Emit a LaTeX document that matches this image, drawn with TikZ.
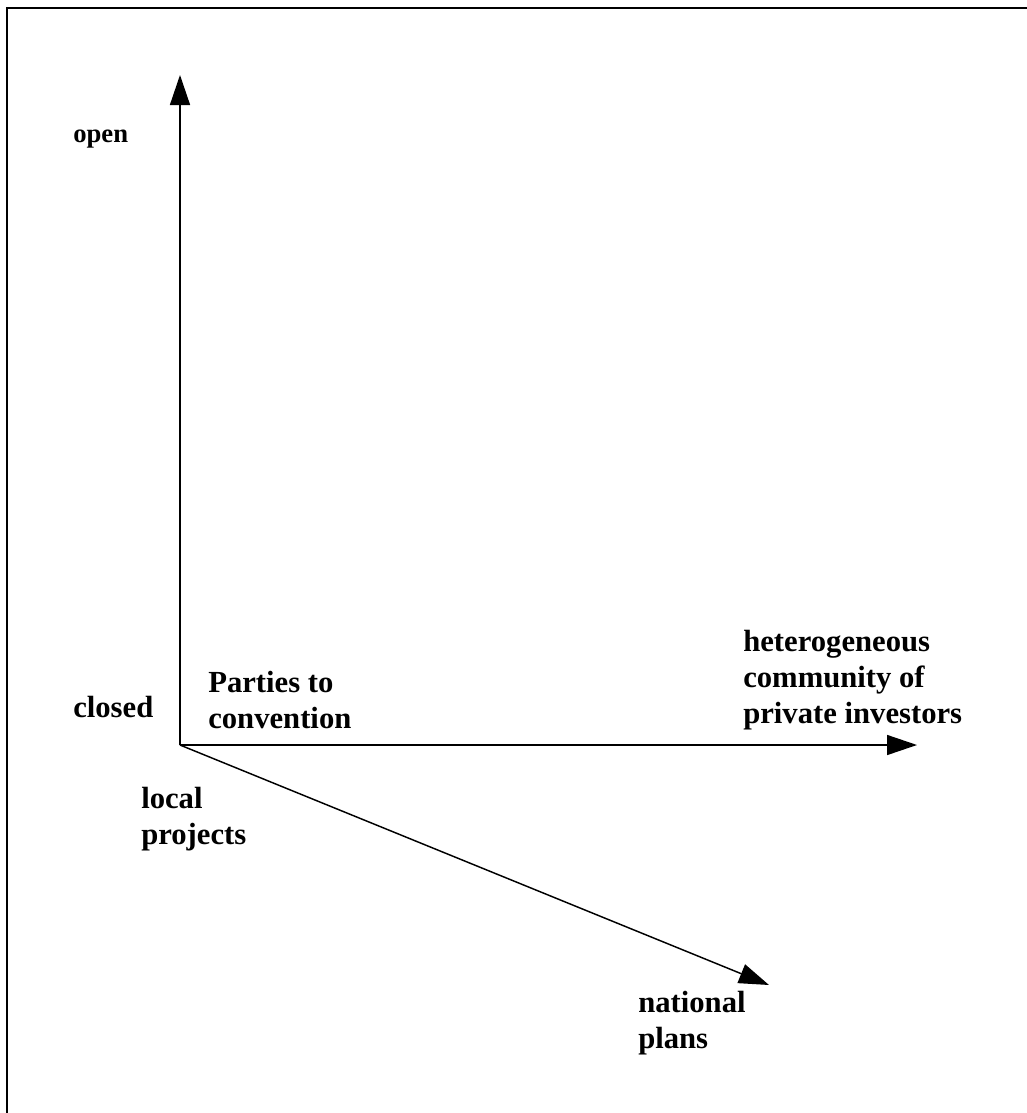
\documentclass[tikz,border=0pt]{standalone}
\usepackage{fontspec}
\setmainfont{Liberation Serif}
\usetikzlibrary{
    arrows.meta,
    positioning
}

\begin{document}
\begin{tikzpicture}[
    x=0.75pt, y=-0.75pt,
    axis/.style={
        -{Triangle[length=22.5pt,width=15pt]},
        line width=1.1pt,
        draw=black
    },
    label/.style={
        font=\fontsize{23}{27}\selectfont\bfseries,
        align=left,
        inner sep=0pt,
        anchor=base west
    },
    small label/.style={
        label,
        font=\fontsize{20}{24}\selectfont\bfseries
    },
    frame/.style={
        line width=1.5pt,
        draw=black
    }
]
\useasboundingbox (0,0) rectangle (1027,1113);

% =========================================================
% Frame (top and left edges only)
% =========================================================
\draw[frame] (1027,8) -- (7,8) -- (7,1113);

% =========================================================
% Axis points
% =========================================================
\coordinate (origin) at (180,745);
\coordinate (opentip) at (180,75);
\coordinate (investortip) at (917,745);
\coordinate (nationaltip) at (769,985);

% =========================================================
% Labels (anchored at the baseline of the last line)
% =========================================================
\node[small label] (open) at (73,142) {open};
\node[label] (closed) at (73,717) {closed};

\node[label] (parties) at (208,728) {Parties to\\convention};

\node[label] (investors) at (743,723)
{heterogeneous\\community of\\private investors};

\node[label] (local) at (141,844) {local\\projects};

\node[label] (national) at (638,1048) {national\\plans};

% =========================================================
% Axes
% =========================================================
\draw[axis] (origin) -- (opentip);
\draw[axis] (origin) -- (investortip);
\draw[axis] (origin) -- (nationaltip);

\end{tikzpicture}
\end{document}
